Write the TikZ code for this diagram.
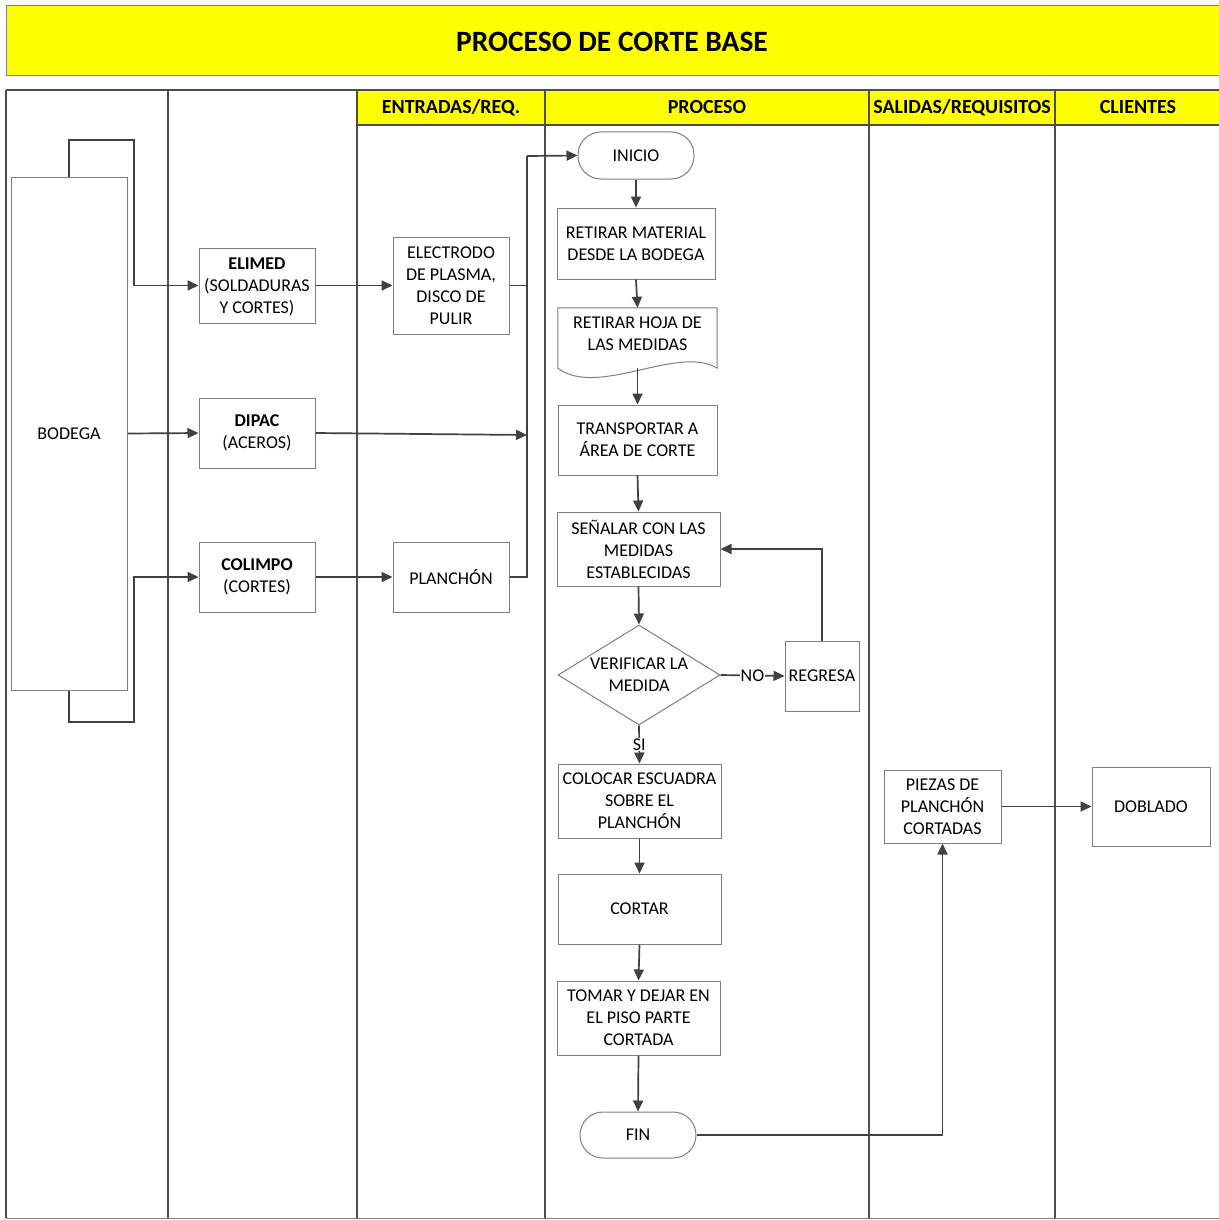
\documentclass[tikz,border=0pt]{standalone}
\usepackage{fontspec}
\setmainfont{Carlito}
\usetikzlibrary{arrows.meta,shapes.geometric}
\definecolor{lanec}{HTML}{4D4D4D}
\definecolor{nodeb}{HTML}{7F7F7F}
\definecolor{conn}{HTML}{404040}
\definecolor{hdr}{HTML}{FFFF00}
\begin{document}
\begin{tikzpicture}[x=1pt,y=-1pt, font=\fontsize{18}{22}\selectfont,
  box/.style={draw=nodeb, line width=1pt, fill=white, inner sep=0pt, align=center},
  term/.style={box, rounded corners=23pt},
  arr/.style={draw=conn, line width=1.7pt, -{Triangle[length=11pt,width=10pt]}},
  ln/.style={draw=conn, line width=1.7pt},
  lane/.style={draw=lanec, line width=1.7pt},
  hd/.style={font=\fontsize{20}{22}\selectfont\bfseries, inner sep=0pt}]
\useasboundingbox (0,0) rectangle (1218,1220);
% title
\draw[draw=nodeb, line width=1pt, fill=hdr] (6,6) rectangle (1224,76);
\node[font=\fontsize{29.5}{32}\selectfont\bfseries] (title) at (612,42) {PROCESO DE CORTE BASE};
% header row
\fill[hdr] (357,90) rectangle (1224,125);
\draw[lane] (357,125) -- (1224,125);
\draw[lane] (6,90) -- (1224,90);
\draw[draw=nodeb, line width=1pt] (6,1218) -- (1224,1218);
\foreach \xx in {6,168,357,545,869,1055} {\draw[lane] (\xx,90) -- (\xx,1218);}
\node[hd] (h1) at (451,107.5) {ENTRADAS/REQ.};
\node[hd] (h2) at (707,107.5) {PROCESO};
\node[hd] (h3) at (962,107.5) {SALIDAS/REQUISITOS};
\node[hd] (h4) at (1138,107.5) {CLIENTES};
% left nodes
\node[box, minimum width=116, minimum height=513] (bodega) at (69,433.5) {BODEGA};
\node[box, minimum width=116, minimum height=75, text depth=0pt] (elimed) at (257,285.5) {\textbf{ELIMED}\\(SOLDADURAS\\Y CORTES)};
\node[box, minimum width=116, minimum height=70] (dipac) at (257,433) {\textbf{DIPAC}\\(ACEROS)};
\node[box, minimum width=116, minimum height=70] (colimpo) at (257,577) {\textbf{COLIMPO}\\(CORTES)};
\node[box, minimum width=116, minimum height=97] (electrodo) at (451,285.5) {ELECTRODO\\DE PLASMA,\\DISCO DE\\PULIR};
\node[box, minimum width=116, minimum height=70] (planchon) at (451,577) {PLANCHÓN};
% process
\node[term, minimum width=116, minimum height=47] (inicio) at (636,155.5) {INICIO};
\node[box, minimum width=158, minimum height=71] (retirar) at (636,243.5) {RETIRAR MATERIAL\\DESDE LA BODEGA};
\node[inner sep=0pt, minimum width=159, minimum height=60] (hoja) at (637.5,338) {};
\draw[draw=nodeb, line width=1pt, fill=white] (hoja.south west) -- (hoja.north west) -- (hoja.north east) -- (hoja.south east)
  .. controls +(-39,-24) and +(40,30) .. (hoja.south west) -- cycle;
\node[align=center, inner sep=0pt] (hojat) at (637.5,334) {RETIRAR HOJA DE\\LAS MEDIDAS};
\node[box, minimum width=159, minimum height=70] (transp) at (637.5,440) {TRANSPORTAR A\\ÁREA DE CORTE};
\node[box, minimum width=163, minimum height=74] (senalar) at (638.5,549) {SEÑALAR CON LAS\\MEDIDAS\\ESTABLECIDAS};
\node[box, shape=diamond, aspect=1.62, minimum width=162, minimum height=100] (verif) at (639,675) {VERIFICAR LA\\MEDIDA};
\node[box, minimum width=74, minimum height=70] (regresa) at (822,676) {REGRESA};
\node[box, minimum width=163, minimum height=74] (colocar) at (639.5,801) {COLOCAR ESCUADRA\\SOBRE EL\\PLANCHÓN};
\node[box, minimum width=163, minimum height=70] (cortar) at (639.5,909) {CORTAR};
\node[box, minimum width=163, minimum height=74] (tomar) at (638.5,1018) {TOMAR Y DEJAR EN\\EL PISO PARTE\\CORTADA};
\node[term, minimum width=116, minimum height=46] (fin) at (638,1135) {FIN};
\node[box, minimum width=117, minimum height=73] (piezas) at (942.5,806.5) {PIEZAS DE\\PLANCHÓN\\CORTADAS};
\node[box, minimum width=118, minimum height=79] (doblado) at (1151,806.5) {DOBLADO};
% coordinates
\coordinate (bt1) at (69,140);
\coordinate (bt2) at (134,140);
\coordinate (bb1) at (69,722);
\coordinate (bb2) at (134,722);
\coordinate (jt) at (527,156);
\coordinate (dj) at (527,435);
% connectors
\draw[arr] (bodega.north) -- (bt1) -- (bt2) |- (elimed.west);
\draw[arr] (bodega.east) -- (dipac.west);
\draw[arr] (bodega.south) -- (bb1) -- (bb2) |- (colimpo.west);
\draw[arr] (elimed.east) -- (electrodo.west);
\draw[arr] (colimpo.east) -- (planchon.west);
\draw[arr] (dipac.east) -- (dj);
\draw[ln] (electrodo.east) -| (jt);
\draw[ln] (planchon.east) -| (jt);
\draw[arr] (jt) -- (inicio.west);
\draw[arr] (inicio.south) -- (retirar.north);
\draw[arr] (retirar.south) -- (hoja.north);
\draw[arr] (hoja.south) -- (transp.north);
\draw[arr] (transp.south) -- (senalar.north);
\draw[arr] (senalar.south) -- (verif.north);
\draw[arr] (verif.east) -- node[fill=white, inner sep=1pt] (no) {NO} (regresa.west);
\draw[arr] (regresa.north) |- (senalar.east);
\draw[arr] (verif.south) -- node[fill=white, inner sep=1pt] (si) {SI} (colocar.north);
\draw[arr] (colocar.south) -- (cortar.north);
\draw[arr] (cortar.south) -- (tomar.north);
\draw[arr] (tomar.south) -- (fin.north);
\draw[arr] (fin.east) -| (piezas.south);
\draw[arr] (piezas.east) -- (doblado.west);
\end{tikzpicture}
\end{document}
